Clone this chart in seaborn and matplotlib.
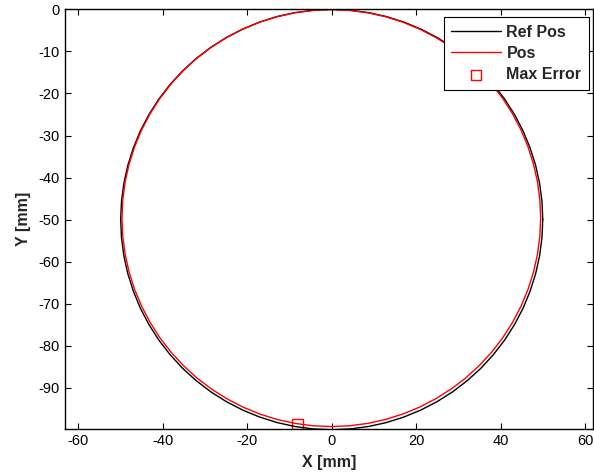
import matplotlib
matplotlib.use("Agg")
import matplotlib.pyplot as plt
import pandas as pd
import seaborn as sns

# reference path, points every 5 degrees going round the circle
ref_x = [50.00, 49.81, 49.24, 48.30, 46.98, 45.32, 43.30, 40.96, 38.30, 35.36,
         32.14, 28.68, 25.00, 21.13, 17.10, 12.94, 8.68, 4.36, 0.00,
         -4.36, -8.68, -12.94, -17.10, -21.13, -25.00, -28.68, -32.14, -35.36,
         -38.30, -40.96, -43.30, -45.32, -46.98, -48.30, -49.24, -49.81, -50.00,
         -49.81, -49.24, -48.30, -46.98, -45.32, -43.30, -40.96, -38.30, -35.36,
         -32.14, -28.68, -25.00, -21.13, -17.10, -12.94, -8.68, -4.36, 0.00,
         4.36, 8.68, 12.94, 17.10, 21.13, 25.00, 28.68, 32.14, 35.36,
         38.30, 40.96, 43.30, 45.32, 46.98, 48.30, 49.24, 49.81, 50.00]
ref_y = [-50.00, -45.64, -41.32, -37.06, -32.90, -28.87, -25.00, -21.32, -17.86, -14.64,
         -11.70, -9.04, -6.70, -4.69, -3.02, -1.70, -0.76, -0.19, 0.00,
         -0.19, -0.76, -1.70, -3.02, -4.69, -6.70, -9.04, -11.70, -14.64,
         -17.86, -21.32, -25.00, -28.87, -32.90, -37.06, -41.32, -45.64, -50.00,
         -54.36, -58.68, -62.94, -67.10, -71.13, -75.00, -78.68, -82.14, -85.36,
         -88.30, -90.96, -93.30, -95.31, -96.98, -98.30, -99.24, -99.81, -100.00,
         -99.81, -99.24, -98.30, -96.98, -95.31, -93.30, -90.96, -88.30, -85.36,
         -82.14, -78.68, -75.00, -71.13, -67.10, -62.94, -58.68, -54.36, -50.00]

# measured path
pos_x = [49.50, 49.31, 48.75, 47.81, 46.51, 44.85, 42.85, 40.53, 37.90, 34.97,
         31.78, 28.35, 24.70, 20.86, 16.86, 12.74, 8.51, 4.23, -0.10,
         -4.43, -8.71, -12.94, -17.06, -21.06, -24.90, -28.55, -31.98, -35.17,
         -38.10, -40.73, -43.05, -45.05, -46.71, -48.01, -48.95, -49.51, -49.70,
         -49.51, -48.95, -48.01, -46.71, -45.05, -43.05, -40.73, -38.10, -35.17,
         -31.98, -28.55, -24.90, -21.06, -17.06, -12.94, -8.71, -4.43, -0.10,
         4.23, 8.51, 12.74, 16.86, 20.86, 24.70, 28.35, 31.78, 34.97,
         37.90, 40.53, 42.85, 44.85, 46.51, 47.81, 48.75, 49.31, 49.50]
pos_y = [-49.65, -45.32, -41.04, -36.81, -32.69, -28.69, -24.85, -21.20, -17.77, -14.58,
         -11.65, -9.02, -6.70, -4.70, -3.04, -1.74, -0.80, -0.24, -0.05,
         -0.24, -0.80, -1.74, -3.04, -4.70, -6.70, -9.02, -11.65, -14.58,
         -17.77, -21.20, -24.85, -28.69, -32.69, -36.81, -41.04, -45.32, -49.65,
         -53.98, -58.26, -62.49, -66.61, -70.61, -74.45, -78.10, -81.53, -84.72,
         -87.65, -90.28, -92.60, -94.60, -96.26, -97.56, -98.50, -99.06, -99.25,
         -99.06, -98.50, -97.56, -96.26, -94.60, -92.60, -90.28, -87.65, -84.72,
         -81.53, -78.10, -74.45, -70.61, -66.61, -62.49, -58.26, -53.98, -49.65]

max_err_x = [-8.1]
max_err_y = [-98.7]

x_ticks = [-60, -40, -20, 0, 20, 40, 60]
y_ticks = [0, -10, -20, -30, -40, -50, -60, -70, -80, -90]

ref_df = pd.DataFrame({"x": ref_x, "y": ref_y})
pos_df = pd.DataFrame({"x": pos_x, "y": pos_y})
err_df = pd.DataFrame({"x": max_err_x, "y": max_err_y})

sns.set_style("ticks")
plt.rcParams["font.family"] = ["Liberation Sans", "DejaVu Sans"]
plt.rcParams["font.size"] = 10
plt.rcParams["axes.unicode_minus"] = False

fig = plt.figure(figsize=(5.94, 4.75), dpi=100)
ax = fig.add_axes([0.1094, 0.0962, 0.8896, 0.884])

sns.lineplot(data=ref_df, x="x", y="y", sort=False, estimator=None,
             color="black", linewidth=1.0, label="Ref Pos", ax=ax)
sns.lineplot(data=pos_df, x="x", y="y", sort=False, estimator=None,
             color="red", linewidth=1.0, label="Pos", ax=ax)
sns.scatterplot(data=err_df, x="x", y="y", marker="s", s=55,
                facecolor="none", edgecolor="red", linewidth=1.0,
                label="Max Error", ax=ax)

ax.set_xlim(-63.2, 62.0)
ax.set_ylim(-99.9, 0)
ax.set_xticks(x_ticks)
ax.set_yticks(y_ticks)
ax.tick_params(direction="in", top=True, right=True, length=4,
               width=0.8, labelsize=10.5, colors="black")
for s in ax.spines.values():
    s.set_visible(True)
    s.set_linewidth(1.0)
    s.set_color("black")

ax.set_xlabel("X [mm]", fontweight="bold", fontsize=11.5, labelpad=5)
ax.set_ylabel("Y [mm]", fontweight="bold", fontsize=11.5, labelpad=6)

leg = ax.legend(loc="upper right", bbox_to_anchor=(0.991, 0.981),
                borderaxespad=0, fancybox=False, framealpha=1,
                edgecolor="black", prop={"weight": "bold", "size": 11.5},
                handlelength=3.1, borderpad=0.45, labelspacing=0.4,
                handletextpad=0.35)
leg.get_frame().set_linewidth(0.8)

fig.savefig("out.png", dpi=100)
